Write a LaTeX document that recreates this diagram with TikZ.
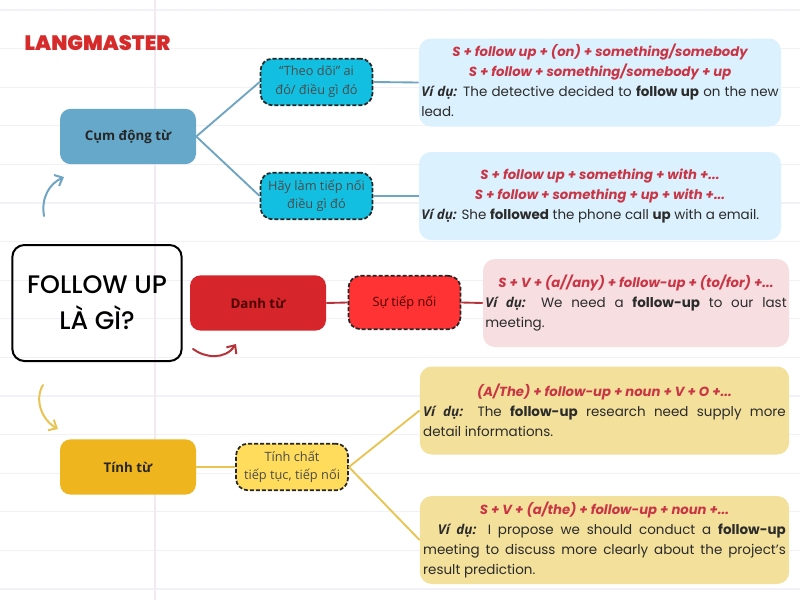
\documentclass[tikz,border=0pt]{standalone}
\usepackage{fontspec}
\usetikzlibrary{arrows.meta}
\setmainfont{Poppins}
\newfontfamily\vnfont{Open Sans}
\newfontfamily\titlefont{Poppins Medium}
\newfontfamily\logofont{Poppins Black}
\hyphenpenalty=10000
\definecolor{ruleline}{HTML}{F3F1F8}
\definecolor{marginline}{HTML}{F3E9F2}
\definecolor{logored}{HTML}{D62B2B}
\definecolor{formula}{HTML}{C93545}
\definecolor{bodytext}{HTML}{2B2B2B}
\definecolor{bluemain}{HTML}{65A8C9}
\definecolor{bluesub}{HTML}{12BFE0}
\definecolor{bluenote}{HTML}{DCF1FE}
\definecolor{blueline}{HTML}{6FA5C2}
\definecolor{redmain}{HTML}{D6252B}
\definecolor{redsub}{HTML}{FF3333}
\definecolor{rednote}{HTML}{F7DEE0}
\definecolor{redline}{HTML}{B5333A}
\definecolor{yellowmain}{HTML}{EEB51F}
\definecolor{yellowsub}{HTML}{FFDC5C}
\definecolor{yellownote}{HTML}{F2E09B}
\definecolor{yellowline}{HTML}{E8C452}
\newcommand{\formula}[1]{\leavevmode\hbox to\linewidth{\hss\fontsize{9.9}{15}\selectfont\bfseries\itshape\color{formula}#1\hss}\par}
\newcommand{\vd}{{\vnfont\bfseries\itshape V\'i d\d{u}:}}
\tikzstyle{mainbox} = [rectangle, rounded corners=8pt, inner sep=0pt, minimum width=102pt, minimum height=41.5pt, font=\vnfont\fontsize{10}{13}\selectfont\bfseries]
\tikzstyle{subbox} = [rectangle, rounded corners=9pt, inner sep=0pt, draw=black!85, line width=1.3pt, dash pattern=on 3pt off 1.5pt, minimum width=84pt, minimum height=35pt, align=center, font=\vnfont\fontsize{9.6}{14}\selectfont]
\tikzstyle{notebox} = [rectangle, rounded corners=9pt, inner sep=0pt, minimum height=66pt, text=bodytext, align=justify, font=\fontsize{10.1}{15}\selectfont]
\tikzstyle{link} = [line width=1.4pt]
\tikzstyle{swoosh} = [line width=1.5pt, -{Straight Barb[length=5pt,width=9pt]}, line cap=round]

\begin{document}
\begin{tikzpicture}[x=.75pt,y=-.75pt]
    \fill [white] (0,0) rectangle (800,600);
    \useasboundingbox (0,0) rectangle (800,600);
    % paper lines
    \foreach \k in {0,...,15}
        \draw [ruleline, line width=.8pt] (0,10+38.6*\k) -- (800,10+38.6*\k);
    \draw [marginline, line width=1pt] (155,0) -- (155,600);

    \node (logo) at (97.5,43) {\logofont\fontsize{15.6}{15.6}\selectfont\color{logored}LANGMASTER};

    \node [draw=black, line width=1.5pt, rectangle, rounded corners=9pt, minimum width=127pt, minimum height=87pt, align=center, inner sep=0pt, font=\titlefont\fontsize{19}{27}\selectfont] (title) at (97,303) {FOLLOW UP\\L\`A G\`I?};

    % verb row
    \node [mainbox, fill=bluemain, text=black!85] (phrasal) at (128,136.5) {Cụm động từ};
    \node [subbox, fill=bluesub, text=black!70] (track) at (316.5,82) {“Theo dõi” ai\\đó/ điều gì đó};
    \node [subbox, fill=bluesub, text=black!70] (resume) at (316.5,196) {Hãy làm tiếp nối\\điều gì đó};
    \node [notebox, fill=bluenote, text width=268pt, minimum width=271.5pt] (tracknote) at (600,82.5) {%
        \formula{S + follow up + (on) + something/somebody}%
        \formula{S + follow + something/somebody + up}%
        \vd{} The detective decided to \textbf{follow up} on the new\linebreak lead.\par\vspace*{3pt}};
    \node [notebox, fill=bluenote, text width=268pt, minimum width=271.5pt] (resumenote) at (600,196) {%
        \formula{S + follow up + something + with +...}%
        \formula{S + follow + something + up + with +...}%
        \vd{} She \textbf{followed} the phone call \textbf{up} with a email.};

    % noun row
    \node [mainbox, fill=redmain, text=red!30!black] (noun) at (258,303) {Danh từ};
    \node [subbox, fill=redsub, text=red!30!black, minimum height=40pt] (nounsense) at (404.5,302.5) {Sự tiếp nối};
    \node [notebox, fill=rednote, text width=226pt, minimum width=229.5pt] (nounnote) at (636,303) {%
        \formula{S + V + (a//any) + follow-up + (to/for) +...}%
        \vd{} We need a \textbf{follow-up} to our last\linebreak meeting.};

    % adjective row
    \node [mainbox, fill=yellowmain, text=black!85] (adj) at (128,467) {Tính từ};
    \node [subbox, fill=yellowsub, text=black!70] (adjsense) at (292,467) {Tính chất\\tiếp tục, tiếp nối};
    \node [notebox, fill=yellownote, text width=272pt, minimum width=277pt] (adjnote) at (604.5,410.5) {%
        \formula{(A/The) + follow-up + noun + V + O +...}%
        \vd{} The \textbf{follow-up} research need supply more\linebreak detail informations.};
    \node [notebox, fill=yellownote, text width=272pt, minimum width=277pt] (adjnotetwo) at (604.5,540) {%
        \formula{S + V + (a/the) + follow-up + noun +...}%
        \hspace*{11pt}\vd{} I propose we should conduct a \textbf{follow-up}\linebreak meeting to discuss more clearly about the project's\linebreak result prediction.};

    \draw [link, blueline] (phrasal.east) -- (track.west);
    \draw [link, blueline] (phrasal.east) -- (resume.west);
    \draw [link, blueline] (track.east) -- (tracknote.west);
    \draw [link, blueline] (resume.east) -- (resumenote.west);
    \draw [link, redline] (noun.east) -- (nounsense.west);
    \draw [link, redline] (nounsense.east) -- (nounnote.west);
    \draw [link, yellowline] (adj.east) -- (adjsense.west);
    \draw [link, yellowline] (adjsense.east) -- (adjnote.west);
    \draw [link, yellowline] (adjsense.east) -- (adjnotetwo.west);

    \coordinate (blueA) at (44,216);
    \coordinate (blueB) at (64,177);
    \coordinate (redA) at (193,349);
    \coordinate (redB) at (236,344);
    \coordinate (yellowA) at (43,385);
    \coordinate (yellowB) at (58,429);
    \draw [swoosh, blueline] (blueA) .. controls (41,198) and (49,184) .. (blueB);
    \draw [swoosh, redline] (redA) .. controls (205,358) and (225,360) .. (redB);
    \draw [swoosh, yellowline] (yellowA) .. controls (34,400) and (42,420) .. (yellowB);
\end{tikzpicture}
\end{document}
